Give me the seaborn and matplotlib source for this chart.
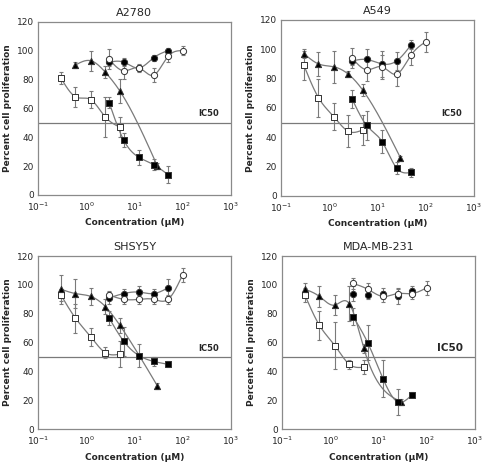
import numpy as np
import pandas as pd
import matplotlib
matplotlib.use("Agg")
import matplotlib.pyplot as plt
import seaborn as sns
from matplotlib.ticker import LogLocator, FixedLocator

sns.set_style("white")
plt.rcParams['font.family'] = ['DejaVu Sans']

panels = ["A2780", "A549", "SHSY5Y", "MDA-MB-231"]

# concentrations (uM)
x_osq = [0.3, 0.6, 1.25, 2.5, 5]
x_tri_a2780 = [0.6, 1.25, 2.5, 5, 30]
x_tri = [0.3, 0.6, 1.25, 2.5, 5, 30]
x_fsq = [3, 6, 12.5, 25, 50]
x_fci = [3, 6, 12.5, 25, 50]
x_oci = [3, 6, 12.5, 25, 50, 100]

# A2780
a2780_osq = [81, 68, 66, 54, 47];        a2780_osq_e = [4, 7, 6, 14, 7]
a2780_tri = [90, 93, 85, 72, 20];        a2780_tri_e = [2, 7, 4, 8, 2]
a2780_fsq = [64, 38, 26, 21, 14];        a2780_fsq_e = [4, 5, 5, 4, 6]
a2780_fci = [92, 92, 88, 95, 100];       a2780_fci_e = [3, 3, 3, 2, 2]
a2780_oci = [94, 86, 88, 83, 96, 100];   a2780_oci_e = [7, 6, 2, 5, 4, 3]

# A549
a549_osq = [89, 67, 54, 44, 45];         a549_osq_e = [10, 13, 9, 11, 10]
a549_tri = [97, 90, 88, 83, 72, 26];     a549_tri_e = [3, 8, 11, 2, 4, 1]
a549_fsq = [66, 48, 37, 19, 16];         a549_fsq_e = [6, 10, 8, 4, 3]
a549_fci = [92, 93, 90, 92, 103];        a549_fci_e = [3, 7, 9, 6, 3]
a549_oci = [94, 86, 88, 83, 96, 105];    a549_oci_e = [7, 8, 8, 8, 7, 7]

# SHSY5Y
shsy_osq = [93, 77, 64, 53, 52];         shsy_osq_e = [4, 10, 6, 4, 9]
shsy_tri = [97, 94, 92, 85, 72, 30];     shsy_tri_e = [10, 10, 6, 5, 5, 2]
shsy_fsq = [77, 61, 51, 47, 45];         shsy_fsq_e = [5, 10, 8, 3, 2]
shsy_fci = [91, 94, 95, 94, 98];         shsy_fci_e = [4, 3, 4, 3, 6]
shsy_oci = [93, 90, 90, 90, 90, 107];    shsy_oci_e = [3, 3, 3, 3, 3, 5]

# MDA-MB-231
mda_osq = [93, 72, 58, 45, 43];          mda_osq_e = [5, 10, 16, 3, 5]
mda_tri = [97, 92, 86, 87, 56, 19];      mda_tri_e = [4, 7, 7, 12, 3, 2]
mda_fsq = [78, 60, 35, 19, 24];          mda_fsq_e = [6, 12, 13, 9, 2]
mda_fci = [94, 93, 94, 92, 96];          mda_fci_e = [5, 3, 4, 5, 3]
mda_oci = [101, 97, 92, 94, 94, 98];     mda_oci_e = [4, 4, 4, 4, 4, 5]

ytick_labels = ["0", "20", "40", "60", "80", "100", "120"]
xtick_labels = ["10$^{-1}$", "10$^{0}$", "10$^{1}$", "10$^{2}$", "10$^{3}$"]

data = {
    "A2780": [(x_osq, a2780_osq, a2780_osq_e, "osq"), (x_tri_a2780, a2780_tri, a2780_tri_e, "tri"),
              (x_fsq, a2780_fsq, a2780_fsq_e, "fsq"), (x_fci, a2780_fci, a2780_fci_e, "fci"),
              (x_oci, a2780_oci, a2780_oci_e, "oci")],
    "A549": [(x_osq, a549_osq, a549_osq_e, "osq"), (x_tri, a549_tri, a549_tri_e, "tri"),
             (x_fsq, a549_fsq, a549_fsq_e, "fsq"), (x_fci, a549_fci, a549_fci_e, "fci"),
             (x_oci, a549_oci, a549_oci_e, "oci")],
    "SHSY5Y": [(x_osq, shsy_osq, shsy_osq_e, "osq"), (x_tri, shsy_tri, shsy_tri_e, "tri"),
               (x_fsq, shsy_fsq, shsy_fsq_e, "fsq"), (x_fci, shsy_fci, shsy_fci_e, "fci"),
               (x_oci, shsy_oci, shsy_oci_e, "oci")],
    "MDA-MB-231": [(x_osq, mda_osq, mda_osq_e, "osq"), (x_tri, mda_tri, mda_tri_e, "tri"),
                   (x_fsq, mda_fsq, mda_fsq_e, "fsq"), (x_fci, mda_fci, mda_fci_e, "fci", False),
                   (x_oci, mda_oci, mda_oci_e, "oci")],
}

styles = {
    "osq": dict(marker="s", face="white"),
    "tri": dict(marker="^", face="black"),
    "fsq": dict(marker="s", face="black"),
    "fci": dict(marker="o", face="black"),
    "oci": dict(marker="o", face="white"),
}


def natural_spline(x, y, n=40):
    """Natural cubic spline through the points, in log10(x)."""
    t = np.log10(np.asarray(x, float))
    y = np.asarray(y, float)
    k = len(t)
    h = np.diff(t)
    A = np.zeros((k, k))
    b = np.zeros(k)
    A[0, 0] = 1
    A[-1, -1] = 1
    for i in range(1, k - 1):
        A[i, i - 1] = h[i - 1]
        A[i, i] = 2 * (h[i - 1] + h[i])
        A[i, i + 1] = h[i]
        b[i] = 6 * ((y[i + 1] - y[i]) / h[i] - (y[i] - y[i - 1]) / h[i - 1])
    M = np.linalg.solve(A, b)
    xs, ys = [], []
    for i in range(k - 1):
        u = np.linspace(t[i], t[i + 1], n, endpoint=(i == k - 2))
        a = t[i + 1] - u
        c = u - t[i]
        s = (M[i] * a**3 / (6 * h[i]) + M[i + 1] * c**3 / (6 * h[i])
             + (y[i] / h[i] - M[i] * h[i] / 6) * a
             + (y[i + 1] / h[i] - M[i + 1] * h[i] / 6) * c)
        xs.append(u)
        ys.append(s)
    return 10 ** np.concatenate(xs), np.concatenate(ys)


fig = plt.figure(figsize=(4.86, 4.63), dpi=100)
positions = {
    "A2780": [0.078, 0.579, 0.397, 0.374],
    "A549": [0.578, 0.577, 0.397, 0.380],
    "SHSY5Y": [0.078, 0.073, 0.397, 0.374],
    "MDA-MB-231": [0.580, 0.073, 0.397, 0.374],
}
ic50_size = {"A2780": 6, "A549": 6, "SHSY5Y": 6, "MDA-MB-231": 7.5}
line_c = "#7a7a7a"
spine_c = "#8a8a8a"

for name in panels:
    ax = fig.add_axes(positions[name])
    ax.set_xscale("log")
    for entry in data[name]:
        x, y, e, key = entry[:4]
        draw_line = entry[4] if len(entry) > 4 else True
        st = styles[key]
        if draw_line:
            sx, sy = natural_spline(x, y)
            sns.lineplot(x=sx, y=sy, ax=ax, color=line_c, lw=0.9, sort=False,
                         estimator=None, zorder=2)
        ax.errorbar(x, y, yerr=e, fmt="none", ecolor=line_c, elinewidth=0.8,
                    capsize=1.2, capthick=0.8, zorder=3)
        sns.scatterplot(x=x, y=y, ax=ax, marker=st["marker"], s=20,
                        color=st["face"], edgecolor="#333333", linewidth=0.7, zorder=4)
    ax.axhline(50, color=line_c, lw=0.9, zorder=1)
    ax.text(10**2.75, 53, "IC50", fontsize=ic50_size[name], fontweight="bold",
            ha="right", va="bottom")
    ax.set_xlim(0.1, 1000)
    ax.set_ylim(0, 120)
    ax.xaxis.set_major_locator(FixedLocator([0.1, 1, 10, 100, 1000]))
    ax.set_xticklabels(xtick_labels)
    ax.xaxis.set_minor_locator(LogLocator(base=10, subs=np.arange(2, 10)))
    ax.set_yticks([0, 20, 40, 60, 80, 100, 120])
    ax.set_yticklabels(ytick_labels)
    ax.tick_params(axis="y", which="major", labelsize=6.5, length=3, direction="in",
                   color=spine_c, pad=3)
    ax.tick_params(axis="x", which="major", labelsize=6.5, length=3, direction="in",
                   color=spine_c, pad=4)
    ax.tick_params(axis="x", which="minor", length=1.5, direction="in", color=spine_c)
    for s in ax.spines.values():
        s.set_color(spine_c)
        s.set_linewidth(0.9)
    ax.set_title(name, fontsize=8, pad=4)
    ax.set_xlabel("Concentration (\u03bcM)", fontsize=6.5, fontweight="bold", labelpad=4)
    ax.set_ylabel("Percent cell proliferation", fontsize=6.5, fontweight="bold", labelpad=3)

fig.savefig("out.png", dpi=100)
